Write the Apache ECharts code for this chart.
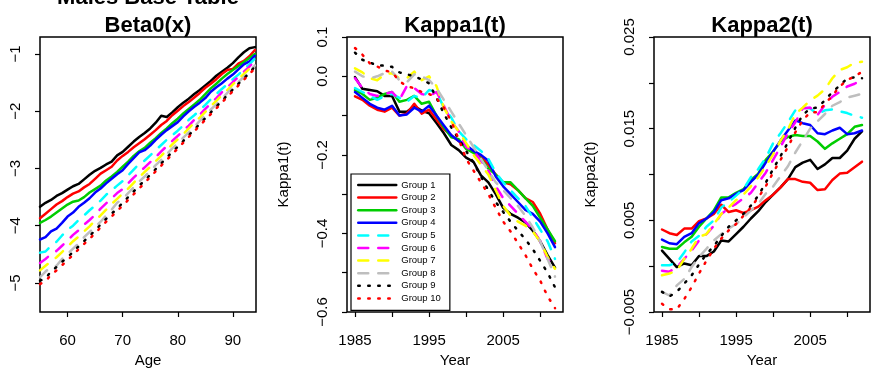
<!DOCTYPE html>
<html>
<head>
	<meta charset="utf-8" />
	<title>Males Base Table</title>
	<script type="text/javascript" src="https://cdn.jsdelivr.net/npm/echarts@6/dist/echarts.min.js"></script>
	<style>
		html, body {margin:0;padding:0;background:#fff;}
		#chart {width:872px;height:374px;}
	</style>
</head>
<body>
	<div id="chart"></div>

	<script>
		var FONT = 'Liberation Sans';

		// x values
		var ages = [55,56,57,58,59,60,61,62,63,64,65,66,67,68,69,70,71,72,73,74,
			75,76,77,78,79,80,81,82,83,84,85,86,87,88,89,90,91,92,93,94];
		var years = [1985,1986,1987,1988,1989,1990,1991,1992,1993,1994,1995,1996,1997,1998,
			1999,2000,2001,2002,2003,2004,2005,2006,2007,2008,2009,2010,2011,2012];

		var groupNames = ['Group 1','Group 2','Group 3','Group 4','Group 5','Group 6','Group 7','Group 8','Group 9','Group 10'];

		// Beta0(x), one row per group (ages 55..94)
		var beta0 = [
			[-3.67,-3.60,-3.55,-3.48,-3.43,-3.37,-3.31,-3.27,-3.19,-3.11,-3.04,-2.99,-2.93,-2.88,-2.77,-2.71,-2.62,-2.53,-2.45,-2.38,-2.30,-2.20,-2.08,-2.10,-2.02,-1.93,-1.85,-1.78,-1.70,-1.63,-1.55,-1.47,-1.38,-1.31,-1.24,-1.16,-1.06,-0.97,-0.90,-0.88],
			[-3.87,-3.79,-3.71,-3.63,-3.57,-3.50,-3.44,-3.40,-3.33,-3.27,-3.18,-3.09,-3.03,-2.97,-2.86,-2.78,-2.71,-2.63,-2.56,-2.49,-2.41,-2.33,-2.24,-2.17,-2.07,-1.99,-1.91,-1.84,-1.76,-1.68,-1.59,-1.52,-1.44,-1.35,-1.28,-1.26,-1.17,-1.12,-1.04,-0.93],
			[-3.95,-3.90,-3.84,-3.77,-3.70,-3.63,-3.58,-3.56,-3.50,-3.42,-3.36,-3.30,-3.21,-3.14,-3.06,-2.97,-2.88,-2.78,-2.70,-2.64,-2.55,-2.47,-2.38,-2.30,-2.21,-2.13,-2.04,-1.96,-1.88,-1.80,-1.70,-1.60,-1.52,-1.43,-1.35,-1.28,-1.21,-1.14,-1.07,-1.00],
			[-4.24,-4.20,-4.10,-4.05,-3.95,-3.84,-3.77,-3.67,-3.60,-3.52,-3.42,-3.35,-3.26,-3.18,-3.10,-3.03,-2.92,-2.82,-2.72,-2.68,-2.60,-2.50,-2.41,-2.33,-2.26,-2.19,-2.09,-2.00,-1.92,-1.85,-1.77,-1.66,-1.58,-1.51,-1.43,-1.36,-1.27,-1.18,-1.13,-1.03],
			[-4.47,-4.45,-4.35,-4.28,-4.17,-4.07,-4.00,-3.90,-3.82,-3.73,-3.65,-3.56,-3.46,-3.38,-3.30,-3.22,-3.12,-3.02,-2.92,-2.86,-2.77,-2.68,-2.59,-2.50,-2.42,-2.34,-2.25,-2.15,-2.07,-1.98,-1.89,-1.79,-1.70,-1.61,-1.53,-1.44,-1.36,-1.27,-1.18,-1.08],
			[-4.65,-4.58,-4.50,-4.44,-4.35,-4.26,-4.16,-4.08,-3.98,-3.90,-3.81,-3.70,-3.61,-3.52,-3.43,-3.36,-3.26,-3.16,-3.07,-2.98,-2.89,-2.80,-2.70,-2.61,-2.52,-2.43,-2.34,-2.25,-2.15,-2.06,-1.96,-1.86,-1.77,-1.67,-1.58,-1.49,-1.40,-1.31,-1.22,-1.12],
			[-4.78,-4.70,-4.62,-4.55,-4.46,-4.37,-4.27,-4.19,-4.10,-4.01,-3.91,-3.82,-3.72,-3.62,-3.53,-3.44,-3.35,-3.25,-3.15,-3.06,-2.97,-2.87,-2.78,-2.68,-2.58,-2.49,-2.40,-2.30,-2.20,-2.11,-2.01,-1.91,-1.82,-1.72,-1.63,-1.53,-1.44,-1.35,-1.26,-1.16],
			[-4.90,-4.80,-4.72,-4.70,-4.58,-4.49,-4.40,-4.31,-4.20,-4.11,-4.02,-3.93,-3.82,-3.72,-3.60,-3.53,-3.43,-3.33,-3.23,-3.14,-3.04,-2.94,-2.85,-2.75,-2.65,-2.56,-2.46,-2.37,-2.27,-2.17,-2.07,-1.97,-1.88,-1.78,-1.68,-1.58,-1.49,-1.40,-1.30,-1.20],
			[-4.96,-4.92,-4.80,-4.72,-4.63,-4.55,-4.46,-4.36,-4.27,-4.18,-4.08,-3.98,-3.88,-3.79,-3.70,-3.60,-3.50,-3.40,-3.30,-3.21,-3.11,-3.01,-2.91,-2.81,-2.71,-2.62,-2.52,-2.42,-2.32,-2.22,-2.12,-2.02,-1.92,-1.82,-1.72,-1.62,-1.52,-1.43,-1.33,-1.22],
			[-5.02,-4.97,-4.86,-4.78,-4.69,-4.60,-4.51,-4.41,-4.32,-4.23,-4.13,-4.03,-3.93,-3.84,-3.74,-3.65,-3.55,-3.45,-3.35,-3.25,-3.15,-3.05,-2.95,-2.85,-2.75,-2.65,-2.55,-2.45,-2.35,-2.25,-2.15,-2.05,-1.95,-1.85,-1.75,-1.65,-1.55,-1.45,-1.35,-1.25]
		];

		// Kappa1(t), one row per group (years 1985..2012)
		var kappa1 = [
			[-0.002,-0.032,-0.035,-0.038,-0.050,-0.050,-0.090,-0.090,-0.076,-0.087,-0.094,-0.119,-0.145,-0.175,-0.188,-0.207,-0.218,-0.252,-0.270,-0.300,-0.335,-0.350,-0.360,-0.372,-0.393,-0.420,-0.455,-0.487],
			[-0.051,-0.060,-0.075,-0.085,-0.090,-0.080,-0.100,-0.095,-0.070,-0.095,-0.085,-0.110,-0.135,-0.150,-0.165,-0.180,-0.190,-0.205,-0.225,-0.250,-0.270,-0.275,-0.290,-0.310,-0.320,-0.350,-0.390,-0.425],
			[-0.035,-0.045,-0.060,-0.055,-0.045,-0.040,-0.065,-0.060,-0.050,-0.070,-0.065,-0.100,-0.130,-0.155,-0.160,-0.185,-0.195,-0.210,-0.235,-0.250,-0.270,-0.270,-0.290,-0.310,-0.330,-0.360,-0.390,-0.420],
			[-0.040,-0.055,-0.070,-0.080,-0.085,-0.075,-0.100,-0.097,-0.080,-0.090,-0.075,-0.100,-0.125,-0.150,-0.165,-0.175,-0.190,-0.200,-0.215,-0.255,-0.280,-0.300,-0.320,-0.340,-0.350,-0.370,-0.400,-0.435],
			[-0.030,-0.040,-0.050,-0.060,-0.050,-0.045,-0.055,-0.065,-0.050,-0.055,-0.035,-0.040,-0.080,-0.105,-0.140,-0.160,-0.175,-0.190,-0.210,-0.245,-0.270,-0.290,-0.310,-0.330,-0.360,-0.390,-0.420,-0.465],
			[-0.005,-0.030,-0.045,-0.050,-0.045,-0.040,-0.060,-0.025,-0.030,-0.045,-0.050,-0.040,-0.075,-0.115,-0.140,-0.180,-0.190,-0.215,-0.240,-0.280,-0.310,-0.330,-0.350,-0.370,-0.390,-0.420,-0.465,-0.485],
			[0.020,0.010,-0.005,-0.010,0.005,0.008,-0.005,-0.005,0.012,-0.010,0.000,-0.025,-0.080,-0.115,-0.140,-0.170,-0.200,-0.225,-0.250,-0.290,-0.330,-0.355,-0.370,-0.380,-0.395,-0.420,-0.460,-0.490],
			[0.012,0.000,-0.005,0.000,0.008,0.012,-0.010,-0.015,0.005,0.000,-0.010,-0.030,-0.060,-0.090,-0.120,-0.150,-0.180,-0.210,-0.240,-0.270,-0.290,-0.310,-0.330,-0.355,-0.385,-0.420,-0.465,-0.510],
			[0.060,0.042,0.035,0.028,0.027,0.024,0.010,0.005,0.000,-0.008,-0.018,-0.055,-0.095,-0.130,-0.160,-0.190,-0.220,-0.255,-0.290,-0.320,-0.345,-0.370,-0.393,-0.415,-0.440,-0.470,-0.500,-0.537],
			[0.072,0.055,0.033,0.025,0.015,0.010,-0.012,-0.026,-0.030,-0.040,-0.045,-0.055,-0.080,-0.115,-0.160,-0.210,-0.240,-0.270,-0.300,-0.335,-0.370,-0.395,-0.425,-0.455,-0.490,-0.520,-0.560,-0.590]
		];

		// Kappa2(t), one row per group (years 1985..2012)
		var kappa2 = [
			[0.0017,0.0008,-0.0001,0.0003,0.0001,0.0011,0.0011,0.0016,0.0028,0.0027,0.0035,0.0043,0.0052,0.0060,0.0070,0.0078,0.0086,0.0095,0.0108,0.0113,0.0116,0.0106,0.0111,0.0118,0.0118,0.0126,0.0139,0.0147],
			[0.0040,0.0036,0.0034,0.0041,0.0041,0.0049,0.0052,0.0057,0.0067,0.0059,0.0061,0.0058,0.0061,0.0065,0.0072,0.0078,0.0086,0.0095,0.0095,0.0092,0.0091,0.0083,0.0084,0.0094,0.0101,0.0102,0.0108,0.0114],
			[0.0021,0.0019,0.0019,0.0026,0.0032,0.0043,0.0052,0.0061,0.0075,0.0075,0.0080,0.0084,0.0094,0.0101,0.0116,0.0125,0.0136,0.0141,0.0143,0.0142,0.0142,0.0136,0.0128,0.0134,0.0139,0.0144,0.0152,0.0154],
			[0.0029,0.0025,0.0024,0.0032,0.0036,0.0047,0.0052,0.0059,0.0072,0.0074,0.0079,0.0083,0.0092,0.0100,0.0113,0.0125,0.0137,0.0148,0.0159,0.0156,0.0154,0.0145,0.0144,0.0148,0.0151,0.0144,0.0145,0.0148],
			[0.0001,0.0001,0.0004,0.0015,0.0027,0.0033,0.0043,0.0050,0.0064,0.0070,0.0077,0.0084,0.0097,0.0106,0.0118,0.0134,0.0145,0.0157,0.0170,0.0173,0.0172,0.0166,0.0170,0.0171,0.0169,0.0167,0.0164,0.0162],
			[-0.0005,-0.0006,-0.0001,0.0008,0.0017,0.0028,0.0035,0.0044,0.0057,0.0063,0.0068,0.0074,0.0080,0.0091,0.0102,0.0116,0.0130,0.0145,0.0157,0.0172,0.0173,0.0165,0.0176,0.0185,0.0190,0.0196,0.0199,0.0203],
			[-0.0010,-0.0008,-0.0005,0.0008,0.0019,0.0032,0.0035,0.0046,0.0057,0.0064,0.0072,0.0078,0.0087,0.0097,0.0109,0.0122,0.0137,0.0149,0.0166,0.0173,0.0181,0.0186,0.0193,0.0205,0.0214,0.0217,0.0222,0.0223],
			[-0.0028,-0.0032,-0.0021,-0.0014,-0.0001,0.0010,0.0019,0.0028,0.0035,0.0041,0.0046,0.0053,0.0061,0.0068,0.0079,0.0087,0.0098,0.0109,0.0124,0.0137,0.0150,0.0158,0.0166,0.0175,0.0179,0.0184,0.0186,0.0188],
			[-0.0028,-0.0033,-0.0028,-0.0019,-0.0010,0.0002,0.0013,0.0022,0.0033,0.0043,0.0050,0.0057,0.0066,0.0077,0.0091,0.0106,0.0120,0.0135,0.0151,0.0165,0.0172,0.0173,0.0181,0.0190,0.0197,0.0205,0.0206,0.0205],
			[-0.0041,-0.0047,-0.0047,-0.0036,-0.0023,-0.0008,0.0006,0.0019,0.0030,0.0039,0.0046,0.0055,0.0064,0.0075,0.0087,0.0102,0.0116,0.0130,0.0146,0.0159,0.0168,0.0168,0.0177,0.0186,0.0196,0.0203,0.0207,0.0212]
		];

		// ticks and labels
		var beta0YTicks = [-5,-4,-3,-2,-1];
		var ageTicks = [60,70,80,90];
		var yearTicks = [1985,1990,1995,2000,2005,2010];
		var yearLabels = [1985,1995,2005];
		var kappa1Ticks = [-0.6,-0.5,-0.4,-0.3,-0.2,-0.1,0,0.1];
		var kappa1Labels = [-0.6,-0.4,-0.2,0,0.1];
		var kappa2Ticks = [-0.005,0,0.005,0.01,0.015,0.02,0.025];
		var kappa2Labels = [-0.005,0.005,0.015,0.025];

		// R default palette + line types
		var groupColors = ['#000000','#ff0000','#00cd00','#0000ff','#00ffff','#ff00ff','#ffff00','#bebebe','#000000','#ff0000'];
		var groupTypes = ['solid','solid','solid','solid',[10,10],[10,10],[10,10],[10,10],[1.5,8.5],[1.5,8.5]];

		function fmt(d) {
			return function(v) {
				var s = Math.abs(v).toFixed(d);
				return (v < -1e-12 ? '\u2212' : '') + s;
			};
		}

		var grids = [
			{left: 40, top: 37, width: 216, height: 275},
			{left: 347, top: 37, width: 216, height: 275},
			{left: 654, top: 37, width: 216, height: 275}
		];

		function mkX(idx, min, max, ticks, labels, name) {
			return {
				gridIndex: idx, type: 'value', min: min, max: max,
				axisLine: {show: false, onZero: false},
				splitLine: {show: false},
				axisTick: {show: true, customValues: ticks, length: 5, lineStyle: {color: '#000', width: 1.2}},
				axisLabel: {customValues: labels, margin: 21, fontSize: 15, color: '#000', fontFamily: FONT, formatter: fmt(0)},
				name: name, nameLocation: 'middle', nameGap: 40,
				nameTextStyle: {fontSize: 15, color: '#000', fontFamily: FONT}
			};
		}

		function mkY(idx, min, max, ticks, labels, d, name) {
			return {
				gridIndex: idx, type: 'value', min: min, max: max,
				axisLine: {show: false, onZero: false},
				splitLine: {show: false},
				axisTick: {show: true, customValues: ticks, length: 5, lineStyle: {color: '#000', width: 1.2}},
				axisLabel: {customValues: labels, rotate: 90, margin: 17, fontSize: 15, color: '#000', fontFamily: FONT, formatter: fmt(d)},
				name: name, nameLocation: 'middle', nameGap: 56,
				nameTextStyle: {fontSize: 15, color: '#000', fontFamily: FONT}
			};
		}

		var series = [];
		[[beta0, ages], [kappa1, years], [kappa2, years]].forEach(function(p, gi) {
			p[0].forEach(function(vals, i) {
				series.push({
					name: groupNames[i],
					type: 'line',
					xAxisIndex: gi, yAxisIndex: gi,
					data: vals.map(function(v, k) { return [p[1][k], v]; }),
					showSymbol: false, symbol: 'circle',
					lineStyle: {color: groupColors[i], width: 2.5, type: groupTypes[i], cap: 'round', join: 'round'},
					itemStyle: {color: groupColors[i]},
					emphasis: {disabled: true},
					z: 2
				});
			});
		});

		var titleStyle = {fontSize: 22, fontWeight: 'bold', color: '#000', fontFamily: FONT};

		var chart = echarts.init(document.getElementById('chart'));
		chart.setOption({
			animation: false,
			backgroundColor: '#fff',
			title: [
				{text: 'Males Base Table', left: 143, top: -18, textAlign: 'center', textVerticalAlign: 'top', textStyle: titleStyle},
				{text: 'Beta0(x)', left: 143, top: 10, textAlign: 'center', textVerticalAlign: 'top', textStyle: titleStyle},
				{text: 'Kappa1(t)', left: 450, top: 10, textAlign: 'center', textVerticalAlign: 'top', textStyle: titleStyle},
				{text: 'Kappa2(t)', left: 757, top: 10, textAlign: 'center', textVerticalAlign: 'top', textStyle: titleStyle}
			],
			grid: grids.map(function(g) {
				return Object.assign({show: true, borderColor: '#000', borderWidth: 1.5, backgroundColor: 'transparent'}, g);
			}),
			xAxis: [
				mkX(0, 55, 94.2, ageTicks, ageTicks, 'Age'),
				mkX(1, 1983.92, 2013.08, yearTicks, yearLabels, 'Year'),
				mkX(2, 1983.92, 2013.08, yearTicks, yearLabels, 'Year')
			],
			yAxis: [
				mkY(0, -5.507, -0.703, beta0YTicks, beta0YTicks, 0, ''),
				mkY(1, -0.6, 0.1, kappa1Ticks, kappa1Labels, 1, 'Kappa1(t)'),
				mkY(2, -0.005, 0.025, kappa2Ticks, kappa2Labels, 3, 'Kappa2(t)')
			],
			legend: {
				data: groupNames,
				orient: 'vertical',
				left: 351, top: 174,
				padding: [6, 9, 7, 6],
				itemWidth: 38, itemHeight: 10, itemGap: 2.6,
				backgroundColor: '#fff',
				borderColor: '#000', borderWidth: 1.2, borderRadius: 0,
				selectedMode: false,
				itemStyle: {opacity: 0},
				lineStyle: {width: 2.5},
				textStyle: {fontSize: 9.5, color: '#000', fontFamily: FONT}
			},
			series: series
		});
	</script>
</body>
</html>
